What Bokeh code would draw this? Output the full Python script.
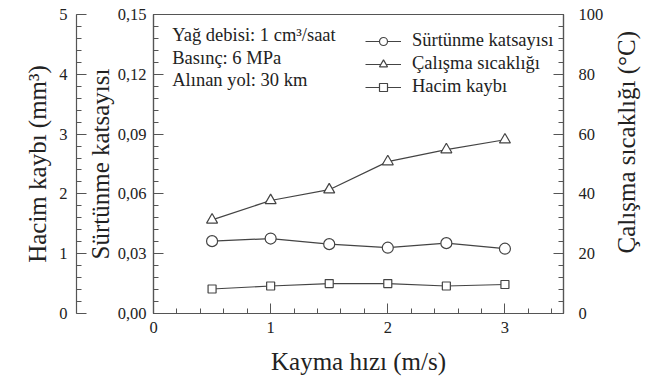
import math
from bokeh.plotting import figure
from bokeh.layouts import row
from bokeh.models import (LinearAxis, Range1d, SingleIntervalTicker, FixedTicker,
                          CustomJSTickFormatter, Label, Legend, LegendItem)
from bokeh.embed import file_html
from bokeh.resources import INLINE

# ---- data ----
speed = [0.5, 1.0, 1.5, 2.0, 2.5, 3.0]                        # Kayma hızı (m/s)
friction = [0.0363, 0.0376, 0.0348, 0.0330, 0.0353, 0.0325]    # Sürtünme katsayısı
temperature = [31.3, 37.8, 41.4, 50.8, 54.8, 58.1]             # Çalışma sıcaklığı (°C)
volume_loss = [0.41, 0.46, 0.50, 0.50, 0.46, 0.485]            # Hacim kaybı (mm³)

info_lines = ["Yağ debisi: 1 cm³/saat", "Basınç: 6 MPa", "Alınan yol: 30 km"]
series_names = ["Sürtünme katsayısı", "Çalışma sıcaklığı", "Hacim kaybı"]
right_title = "Çalışma sıcaklığı (°C)"

FONT = "Liberation Serif"
INK = "#222222"
LINE = "#444444"
AX = "#555555"

p = figure(width=610, height=383, output_backend="svg", toolbar_location=None,
           x_range=Range1d(0, 3.5), y_range=Range1d(0, 0.15),
           min_border_left=153, min_border_right=47, min_border_top=14, min_border_bottom=70)
p.extra_y_ranges = {"vol": Range1d(0, 5), "temp": Range1d(0, 100)}
p.grid.visible = False
p.outline_line_color = AX
p.outline_line_width = 1.2
p.background_fill_color = "white"
p.border_fill_color = "white"


def style_axis(ax, tick_size="16.5px"):
    ax.axis_line_color = AX
    ax.axis_line_width = 1.2
    ax.major_tick_line_color = AX
    ax.minor_tick_line_color = AX
    ax.major_tick_in = 10
    ax.major_tick_out = 0
    ax.minor_tick_in = 5
    ax.minor_tick_out = 0
    ax.major_label_text_font = FONT
    ax.major_label_text_font_size = tick_size
    ax.major_label_text_color = INK
    ax.axis_label_text_font = FONT
    ax.axis_label_text_font_size = "25px"
    ax.axis_label_text_font_style = "normal"
    ax.axis_label_text_color = INK


# x axis
xa = p.xaxis[0]
xa.ticker = SingleIntervalTicker(interval=1, num_minor_ticks=5)
xa.axis_label = "Kayma hızı (m/s)"
style_axis(xa)
xa.major_label_standoff = 8
xa.axis_label_standoff = 12

# inner left axis: friction
ya = p.yaxis[0]
ya.ticker = SingleIntervalTicker(interval=0.03, num_minor_ticks=5)
ya.formatter = CustomJSTickFormatter(code="return tick.toFixed(2).replace('.', ',');")
ya.axis_label = "Sürtünme katsayısı"
style_axis(ya)
ya.major_label_standoff = 7
ya.axis_label_standoff = 1

# spacer between the two left axes
spacer = LinearAxis(ticker=FixedTicker(ticks=[0]), axis_line_color=None,
                    major_tick_line_color=None, minor_tick_line_color=None,
                    major_tick_in=0, major_tick_out=7, minor_tick_in=0, minor_tick_out=0,
                    major_label_overrides={0: ""}, major_label_text_alpha=0,
                    major_label_standoff=0)
p.add_layout(spacer, "left")

# outer left axis: volume loss
va = LinearAxis(y_range_name="vol", axis_label="Hacim kaybı (mm³)")
va.ticker = SingleIntervalTicker(interval=1, num_minor_ticks=5)
style_axis(va)
va.major_label_standoff = 9
va.axis_label_standoff = 5
p.add_layout(va, "left")

# right axis: temperature (its title is drawn in a narrow side panel, reading upwards)
ta = LinearAxis(y_range_name="temp")
ta.ticker = SingleIntervalTicker(interval=20, num_minor_ticks=5)
style_axis(ta)
ta.major_label_standoff = 15
p.add_layout(ta, "right")

# ---- series ----
l1 = p.line(speed, friction, line_color=LINE, line_width=1.2)
s1 = p.scatter(speed, friction, marker="circle", size=11, line_color=LINE,
               fill_color="white", line_width=1.2)
l2 = p.line(speed, temperature, y_range_name="temp", line_color=LINE, line_width=1.2)
s2 = p.scatter(speed, temperature, y_range_name="temp", marker="triangle", size=11,
               line_color=LINE, fill_color="white", line_width=1.2)
l3 = p.line(speed, volume_loss, y_range_name="vol", line_color=LINE, line_width=1.2)
s3 = p.scatter(speed, volume_loss, y_range_name="vol", marker="square", size=8,
               line_color=LINE, fill_color="white", line_width=1.2)

legend = Legend(items=[LegendItem(label=series_names[0], renderers=[l1, s1]),
                       LegendItem(label=series_names[1], renderers=[l2, s2]),
                       LegendItem(label=series_names[2], renderers=[l3, s3])],
                location=(212, 215), background_fill_alpha=0, border_line_color=None,
                label_text_font=FONT, label_text_font_size="18.5px", label_text_color=INK,
                glyph_width=36, glyph_height=20, label_height=23, spacing=0,
                label_standoff=11, padding=0, margin=0)
p.add_layout(legend)

# ---- info text ----
for i, t in enumerate(info_lines):
    p.add_layout(Label(x=0.16, y=0.1397 - i * 0.0114, text=t, text_font=FONT,
                       text_font_size="18.5px", text_color=INK, text_baseline="middle"))

# ---- narrow side panel holding the right-hand axis title ----
side = figure(width=40, height=383, output_backend="svg", toolbar_location=None,
              x_range=Range1d(0, 1), y_range=Range1d(0, 1),
              x_axis_type=None, y_axis_type=None,
              min_border_left=0, min_border_right=0, min_border_top=0, min_border_bottom=0)
side.grid.visible = False
side.outline_line_color = None
side.background_fill_color = "white"
side.border_fill_color = "white"
side.add_layout(Label(x=0.4, y=0.573, text=right_title, angle=math.pi / 2,
                      text_font=FONT, text_font_size="25px", text_color=INK,
                      text_align="center", text_baseline="middle"))

open("out.html", "w").write(file_html(row(p, side, spacing=0), INLINE))
